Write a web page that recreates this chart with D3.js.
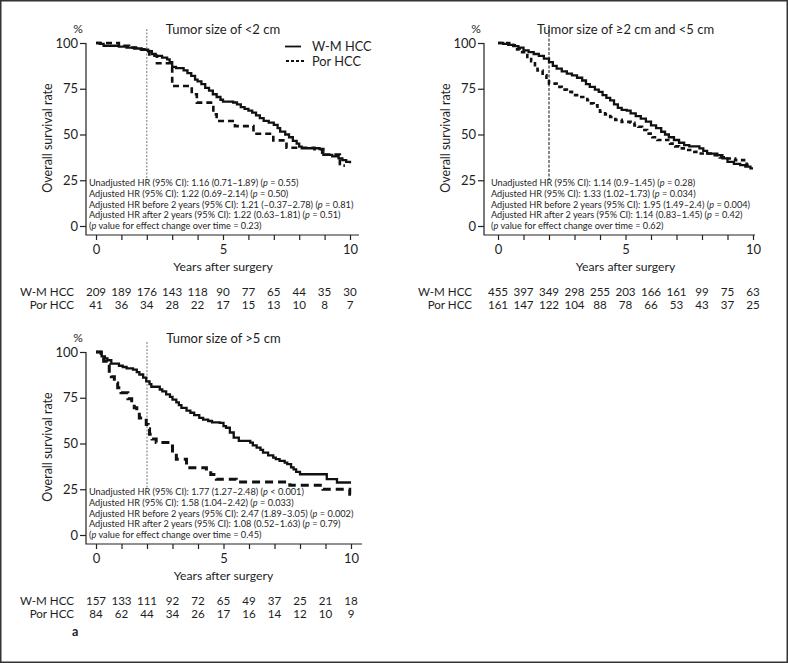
<!DOCTYPE html>
<html><head><meta charset="utf-8">
<script src="https://cdn.jsdelivr.net/npm/d3@7"></script>
<style>
body{margin:0;background:#fff}
svg{display:block}
text{font-family:Lato,"Open Sans",sans-serif;fill:#1e1e1e}
</style>
</head><body>
<svg id="c" width="788" height="663"></svg>
<script>
// ---------------- data ----------------
const yearTicks = [0,1,2,3,4,5,6,7,8,9,10];
const yearLabels = [0,5,10];
const survTicks = [0,25,50,75,100];
const groupNames = ["W-M HCC","Por HCC"];
const panelTitles = ["Tumor size of <2 cm","Tumor size of \u22652 cm and <5 cm","Tumor size of >5 cm"];

// Kaplan-Meier steps: [years, survival %]
const wmSmall = [[0,100],[0.15,99.5],[0.3,98.5],[0.9,98],[1.2,97.5],[1.5,97],[1.8,96.3],[2.05,95.5],[2.2,94],[2.35,93],[2.6,92],[2.8,91],[2.9,89.5],[3.0,87],[3.15,86.3],[3.45,85],[3.6,83.5],[3.75,82],[3.9,80],[4.0,79],[4.15,77.5],[4.3,75.5],[4.45,74],[4.6,72],[4.75,70.5],[4.9,69],[5.0,68],[5.4,67.5],[5.55,66.5],[5.7,65],[5.85,64],[6.0,63],[6.15,62],[6.3,60.5],[6.45,59],[6.6,57.5],[6.8,56.5],[7.0,55.3],[7.15,53.5],[7.25,51.6],[7.45,50],[7.6,48.5],[7.75,46.5],[7.9,45],[8.0,43.4],[8.1,42.5],[8.8,42],[8.9,40],[8.95,38.9],[9.3,38],[9.55,37],[9.7,36],[9.85,35],[10,34.3]];
const porSmall = [[0,100],[0.9,98.5],[1.3,97.5],[1.7,96.5],[2.1,93],[2.4,88.9],[3.0,76.5],[3.77,72],[3.97,67.4],[4.62,61],[4.75,57.4],[5.47,54.6],[6.2,50.4],[6.98,46.8],[7.5,42.8],[8.6,42],[8.95,39],[9.6,33],[9.8,33]];
const wmMid = [[0,100],[0.2,99.5],[0.4,99],[0.6,98.3],[0.8,97.5],[1.0,96],[1.2,95],[1.4,94],[1.6,93],[1.8,91.5],[2.0,89.6],[2.15,87.5],[2.3,86],[2.5,84.5],[2.7,83.3],[2.9,82.3],[3.1,81],[3.3,79.5],[3.45,77.5],[3.6,76],[3.8,74.5],[3.95,73.3],[4.1,71.5],[4.25,70],[4.4,68.7],[4.55,66.5],[4.7,64.5],[4.85,63.5],[5.05,63],[5.2,61.5],[5.4,60],[5.6,58.7],[5.8,57],[6.0,55],[6.2,53.5],[6.4,51.5],[6.55,50],[6.7,48.5],[6.9,47],[7.1,45.5],[7.3,44.2],[7.5,43.5],[7.9,42.4],[8.05,41],[8.2,39.6],[8.6,38.7],[8.8,37],[9.0,35],[9.25,34],[9.5,33.3],[9.7,32.5],[9.9,31.5],[10,31.5]];
const porMid = [[0,100],[0.6,98.7],[0.75,96.5],[0.85,95],[1.15,92.4],[1.3,90],[1.45,87],[1.55,85],[1.75,82.4],[1.9,80],[2.0,77.8],[2.3,76],[2.5,74.5],[2.7,73.3],[2.9,71.5],[3.1,70.5],[3.5,68.7],[3.65,67],[3.75,66],[3.9,64],[4.0,62.4],[4.2,61],[4.4,59.6],[4.6,58],[4.85,56.9],[5.2,56.4],[5.35,55],[5.5,54.2],[5.65,52.5],[5.85,50.5],[6.05,48.5],[6.25,47],[6.75,45],[6.95,43.5],[7.1,42.4],[7.4,41.5],[7.7,40.5],[7.9,39.6],[8.5,38.7],[8.7,37.5],[8.85,36.9],[9.3,36],[9.75,33.5],[9.83,33.5]];
const wmLarge = [[0,100],[0.22,97.6],[0.35,96.5],[0.45,95.5],[0.6,93.6],[0.9,92.5],[1.05,91.8],[1.2,91],[1.45,90.4],[1.6,89],[1.7,87.7],[1.85,86],[1.97,84],[2.1,82.5],[2.17,81],[2.5,79.5],[2.6,78.5],[2.75,76.8],[2.9,75.5],[3.0,74],[3.15,72.5],[3.25,71],[3.35,69.5],[3.55,68],[3.7,66.8],[3.85,65.5],[4.05,64],[4.2,63],[4.4,62.3],[4.55,61.5],[4.85,61.3],[5.0,59.5],[5.1,58.6],[5.25,56],[5.4,53.2],[5.6,51.4],[6.05,50.5],[6.15,49],[6.3,47.7],[6.45,46.5],[6.55,45],[6.75,43.5],[6.95,42.3],[7.05,41.5],[7.2,40.5],[7.4,39.5],[7.5,38.7],[7.65,37],[7.75,35.9],[7.85,34.5],[8.0,33.2],[9.05,30.5],[9.45,28.7],[10,28.7]];
const porLarge = [[0,100],[0.2,97.6],[0.3,95],[0.4,93],[0.52,89.5],[0.6,86.5],[0.72,83],[0.85,80.5],[0.98,77.7],[1.25,74.4],[1.4,72],[1.5,69.5],[1.6,67],[1.7,64],[1.97,60.4],[2.05,58],[2.1,55],[2.2,52.5],[2.36,50.5],[2.9,48.6],[3.0,45],[3.15,41.4],[3.55,36.8],[4.33,35],[4.5,33],[4.72,30.5],[5.5,29],[7.6,27.2],[8.9,25],[9.95,22.3],[10,22.3]];

// numbers at risk
const riskWmSmall = [209,189,176,143,118,90,77,65,44,35,30];
const riskPorSmall = [41,36,34,28,22,17,15,13,10,8,7];
const riskWmMid = [455,397,349,298,255,203,166,161,99,75,63];
const riskPorMid = [161,147,122,104,88,78,66,53,43,37,25];
const riskWmLarge = [157,133,111,92,72,65,49,37,25,21,18];
const riskPorLarge = [84,62,44,34,26,17,16,14,12,10,9];

// hazard ratio notes (_p_ = italic)
const hrSmall = ["Unadjusted HR (95% CI): 1.16 (0.71\u20131.89) (_p_ = 0.55)","Adjusted HR (95% CI): 1.22 (0.69\u20132.14) (_p_ = 0.50)","Adjusted HR before 2 years (95% CI): 1.21 (\u20130.37\u20132.78) (_p_ = 0.81)","Adjusted HR after 2 years (95% CI): 1.22 (0.63\u20131.81) (_p_ = 0.51)","(_p_ value for effect change over time = 0.23)"];
const hrMid = ["Unadjusted HR (95% CI): 1.14 (0.9\u20131.45) (_p_ = 0.28)","Adjusted HR (95% CI): 1.33 (1.02\u20131.73) (_p_ = 0.034)","Adjusted HR before 2 years (95% CI): 1.95 (1.49\u20132.4) (_p_ = 0.004)","Adjusted HR after 2 years (95% CI): 1.14 (0.83\u20131.45) (_p_ = 0.42)","(_p_ value for effect change over time = 0.62)"];
const hrLarge = ["Unadjusted HR (95% CI): 1.77 (1.27\u20132.48) (_p_ < 0.001)","Adjusted HR (95% CI): 1.58 (1.04\u20132.42) (_p_ = 0.033)","Adjusted HR before 2 years (95% CI): 2.47 (1.89\u20133.05) (_p_ = 0.002)","Adjusted HR after 2 years (95% CI): 1.08 (0.52\u20131.63) (_p_ = 0.79)","(_p_ value for effect change over time = 0.45)"];
const cutYear = 2;

// ---------------- layout ----------------
const panels = [
  {title:panelTitles[0], wm:wmSmall, por:porSmall, rWm:riskWmSmall, rPor:riskPorSmall, hr:hrSmall,
   axisX:86, x0:96, x1:350, xEnd:359, dy:0, noteX:89, legend:true, refStyle:{stroke:"#777",dash:"2,1.5"}, porDash:"6,4", porW:2.6, refTop:29},
  {title:panelTitles[1], wm:wmMid, por:porMid, rWm:riskWmMid, rPor:riskPorMid, hr:hrMid,
   axisX:484, x0:498, x1:753, xEnd:755, dy:0, noteX:491, legend:false, refStyle:{stroke:"#111",dash:"3,1.5"}, porDash:"4.5,3.5", porW:2.6, refTop:25},
  {title:panelTitles[2], wm:wmLarge, por:porLarge, rWm:riskWmLarge, rPor:riskPorLarge, hr:hrLarge,
   axisX:86, x0:96, x1:351, xEnd:362, dy:309, noteX:89, legend:false, refStyle:{stroke:"#777",dash:"2,1.5"}, porDash:"8,5", porW:3, refTop:33}
];

const svg = d3.select("#c");
svg.append("rect").attr("x",0.75).attr("y",0.75).attr("width",786.5).attr("height",661.5)
  .attr("fill","#fff").attr("stroke","#333").attr("stroke-width",1.5);

const FONT = "Lato,'Open Sans',sans-serif";

panels.forEach(p => {
  const g = svg.append("g").attr("transform",`translate(0,${p.dy})`);
  const x = d3.scaleLinear().domain([0,10]).range([p.x0,p.x1]);
  const y = d3.scaleLinear().domain([0,100]).range([226,43]);
  const xAxisY = 235;

  // reference line at 2 years
  g.append("line").attr("x1",x(cutYear)).attr("x2",x(cutYear)).attr("y1",p.refTop).attr("y2",180)
    .attr("stroke",p.refStyle.stroke).attr("stroke-width",1).attr("stroke-dasharray",p.refStyle.dash);

  // axes lines
  g.append("path").attr("d",`M${p.axisX},${y(100)}V${xAxisY}H${p.xEnd}`)
    .attr("fill","none").attr("stroke","#222").attr("stroke-width",1.2);

  const ya = d3.axisLeft(y).tickValues(survTicks).tickSize(6).tickPadding(2);
  const yg = g.append("g").attr("transform",`translate(${p.axisX},0)`).call(ya);
  yg.select(".domain").remove();
  yg.selectAll("line").attr("stroke","#222").attr("stroke-width",1.2);
  yg.selectAll("text").attr("font-size",13).attr("fill","#1e1e1e").style("font-family",FONT);

  const xa = d3.axisBottom(x).tickValues(yearTicks).tickSize(5).tickPadding(5)
    .tickFormat(d => yearLabels.includes(d) ? d : "");
  const xg = g.append("g").attr("transform",`translate(0,${xAxisY})`).call(xa);
  xg.select(".domain").remove();
  xg.selectAll("line").attr("stroke","#222").attr("stroke-width",1.2);
  xg.selectAll("text").attr("font-size",13).attr("fill","#1e1e1e").style("font-family",FONT);

  // labels
  g.append("text").attr("x",p.axisX-8).attr("y",33).attr("text-anchor","middle").attr("font-size",12).text("%");
  g.append("text").attr("x",(p.x0+p.x1)/2).attr("y",33.5).attr("text-anchor","middle").attr("font-size",13).text(p.title);
  g.append("text").attr("transform",`translate(${p.axisX-39},138) rotate(-90)`).attr("text-anchor","middle")
    .attr("dominant-baseline","central").attr("font-size",12.5).text("Overall survival rate");
  g.append("text").attr("x",(p.x0+p.x1)/2).attr("y",270.5).attr("text-anchor","middle").attr("font-size",12.2).text("Years after surgery");

  // curves
  const line = d3.line().x(d=>x(d[0])).y(d=>y(d[1])).curve(d3.curveStepAfter);
  g.append("path").datum(p.por).attr("d",line).attr("fill","none").attr("stroke","#111")
    .attr("stroke-width",p.porW).attr("stroke-dasharray",p.porDash);
  g.append("path").datum(p.wm).attr("d",line).attr("fill","none").attr("stroke","#111").attr("stroke-width",2.3);

  // HR notes
  p.hr.forEach((s,i) => {
    const t = g.append("text").attr("x",p.noteX).attr("y",186+i*10.8).attr("font-size",9.2);
    s.split("_").forEach((seg,j) => { t.append("tspan").attr("font-style", j%2 ? "italic":"normal").text(seg); });
  });

  // risk table
  [p.rWm,p.rPor].forEach((arr,k) => {
    const ry = 296 + k*13.3;
    g.append("text").attr("x",p.axisX-12).attr("y",ry).attr("text-anchor","end").attr("font-size",11.6).text(groupNames[k]);
    g.selectAll(null).data(arr).enter().append("text")
      .attr("x",(d,i)=>x(yearTicks[i])).attr("y",ry).attr("text-anchor","middle").attr("font-size",11.6).text(d=>d);
  });

  // legend
  if (p.legend) {
    const lg = g.append("g");
    lg.append("line").attr("x1",285).attr("x2",301).attr("y1",46.5).attr("y2",46.5).attr("stroke","#111").attr("stroke-width",1.8);
    lg.append("line").attr("x1",286).attr("x2",306).attr("y1",61).attr("y2",61).attr("stroke","#111").attr("stroke-width",1.8).attr("stroke-dasharray","3,2");
    lg.append("text").attr("x",312).attr("y",51).attr("font-size",12.8).text(groupNames[0]);
    lg.append("text").attr("x",312).attr("y",65.5).attr("font-size",12.8).text(groupNames[1]);
  }
});

svg.append("text").attr("x",72).attr("y",636).attr("font-size",12.5).attr("font-weight","bold").text("a");
</script>
</body></html>
